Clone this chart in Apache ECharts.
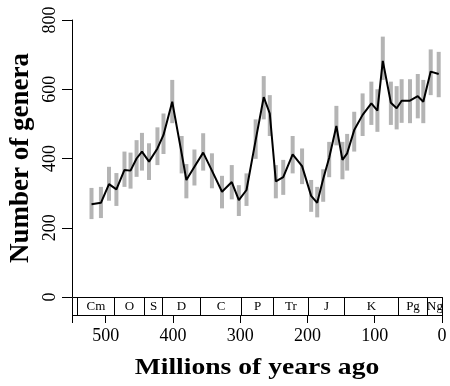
<!DOCTYPE html>
<html><head><meta charset="utf-8">
<script src="https://cdn.jsdelivr.net/npm/echarts@6/dist/echarts.min.js"></script>
<style>html,body{margin:0;padding:0;background:#fff}#c{width:450px;height:386px}</style>
</head><body><div id="c"></div>
<script>
// Stage midpoints (Ma)
const ages = [521, 507, 495, 484, 472, 463, 454, 446, 435.5, 423, 414, 401, 387, 380, 368, 355, 342, 327, 312.5, 302, 290.6, 277, 265, 256, 247, 236, 222, 208, 194.5, 185.5, 176.6, 167.7, 157, 148, 141, 130.5, 118, 105, 96, 88, 76, 67.4, 60, 47.6, 36, 27.8, 16.8, 4.9];
// Number of genera
const genera = [268, 272, 326, 311, 367, 365, 400, 420, 391, 429, 468, 564, 415, 338, 376, 417, 365, 304, 332, 280, 309, 453, 577, 530, 334, 346, 412, 378, 292, 272, 341, 402, 494, 396, 415, 482, 526, 559, 538, 682, 561, 545, 567, 567, 580, 564, 651, 644];
// Error bar bounds
const lower = [225, 228, 278, 263, 318, 313, 347, 365, 338, 381, 413, 502, 357, 285, 322, 365, 314, 256, 282, 234, 263, 399, 513, 465, 285, 295, 357, 326, 246, 230, 275, 346, 438, 340, 365, 420, 465, 497, 477, 627, 497, 484, 503, 502, 516, 502, 583, 577];
const upper = [315, 318, 376, 358, 420, 417, 453, 474, 444, 490, 530, 627, 465, 384, 426, 473, 415, 350, 381, 323, 357, 513, 638, 583, 381, 396, 465, 429, 338, 318, 369, 448, 552, 448, 471, 535, 588, 622, 600, 752, 622, 609, 629, 629, 644, 627, 715, 708];
// Geological periods
const periodNames = ['Cm', 'O', 'S', 'D', 'C', 'P', 'Tr', 'J', 'K', 'Pg', 'Ng'];
const periodBounds = [542, 488.3, 443.7, 416, 359.2, 299, 251, 199.6, 145.5, 65.5, 23, 0];
// Axis ticks
const xTicks = [0, 100, 200, 300, 400, 500];
const yTicks = [0, 200, 400, 600, 800];

const FONT = "'Liberation Serif', 'DejaVu Serif', serif";
const chart = echarts.init(document.getElementById('c'), null, {renderer: 'canvas'});

const lineData = ages.map((a, i) => [a, genera[i]]);
const barData = ages.map((a, i) => [a, lower[i], upper[i]]);
const periodData = periodNames.map((n, i) => [periodBounds[i], periodBounds[i + 1], n]);
periodData.unshift([550, 0, '']);

chart.setOption({
  animation: false,
  backgroundColor: '#fff',
  grid: [
    {left: 72, top: 20, width: 370, height: 277},
    {left: 72, top: 297, width: 370, height: 18}
  ],
  xAxis: [
    {gridIndex: 0, type: 'value', min: 0, max: 550, inverse: true, show: false},
    {gridIndex: 1, type: 'value', min: 0, max: 550, interval: 100, inverse: true,
     axisLine: {show: false, onZero: false},
     axisTick: {show: true, inside: false, length: 8, lineStyle: {color: '#000', width: 1}},
     splitLine: {show: false},
     axisLabel: {show: true, margin: 12, color: '#000', fontFamily: FONT, fontSize: 18,
       formatter: v => (xTicks.indexOf(v) >= 0 ? String(v) : '')}}
  ],
  yAxis: [
    {gridIndex: 0, type: 'value', min: 0, max: 800, interval: 200, position: 'left',
     axisLine: {show: true, onZero: false, lineStyle: {color: '#000', width: 1}},
     axisTick: {show: true, length: 10, lineStyle: {color: '#000', width: 1}},
     splitLine: {show: false},
     axisLabel: {show: true, rotate: 90, margin: 13, color: '#000', fontFamily: FONT, fontSize: 18,
       formatter: v => (yTicks.indexOf(v) >= 0 ? String(v) : '')}},
    {gridIndex: 1, type: 'value', min: 0, max: 1, show: false}
  ],
  graphic: [
    {type: 'text', x: 257, y: 368, scaleX: 1.15,
     style: {text: 'Millions of years ago', fontFamily: FONT, fontWeight: 'bold', fontSize: 24,
       fill: '#000', align: 'center', verticalAlign: 'middle'}},
    {type: 'text', x: 21, y: 158, rotation: Math.PI / 2,
     style: {text: 'Number of genera', fontFamily: FONT, fontWeight: 'bold', fontSize: 27,
       fill: '#000', align: 'center', verticalAlign: 'middle'}}
  ],
  series: [
    {
      type: 'custom', xAxisIndex: 0, yAxisIndex: 0, data: barData, z: 1,
      renderItem: (params, api) => {
        const p1 = api.coord([api.value(0), api.value(1)]);
        const p2 = api.coord([api.value(0), api.value(2)]);
        return {type: 'line', shape: {x1: p1[0], y1: p1[1], x2: p2[0], y2: p2[1]},
          style: {stroke: '#b4b4b4', lineWidth: 4}};
      }
    },
    {
      type: 'line', xAxisIndex: 0, yAxisIndex: 0, data: lineData, z: 2,
      showSymbol: false, symbol: 'none',
      lineStyle: {color: '#000', width: 2}
    },
    {
      type: 'custom', xAxisIndex: 1, yAxisIndex: 1, data: periodData, z: 3,
      renderItem: (params, api) => {
        const a = api.coord([api.value(0), 1]);
        const b = api.coord([api.value(1), 0]);
        const x0 = Math.round(Math.min(a[0], b[0])) + 0.5;
        const x1 = Math.round(Math.max(a[0], b[0])) + 0.5;
        const y0 = Math.round(a[1]) + 0.5;
        const y1 = Math.round(b[1]) + 0.5;
        const name = api.value(2);
        const children = [{type: 'rect', shape: {x: x0, y: y0, width: x1 - x0, height: y1 - y0},
          style: {fill: 'none', stroke: '#000', lineWidth: 1}}];
        if (name) {
          children.push({type: 'text', x: (x0 + x1) / 2, y: (y0 + y1) / 2 + 0.5,
            style: {text: name, fontFamily: FONT, fontSize: 13, fill: '#000',
              align: 'center', verticalAlign: 'middle'}});
        }
        return {type: 'group', children};
      }
    }
  ]
});
</script>
</body></html>
